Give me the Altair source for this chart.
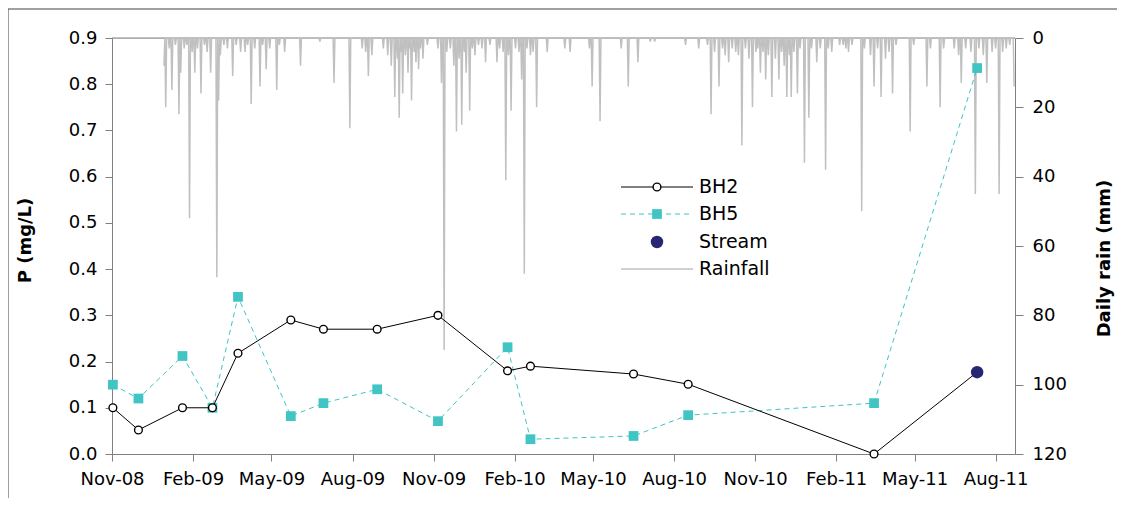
import altair as alt
import pandas as pd

# ---------------- data ----------------
sample_dates = ["2008-11-02", "2008-12-01", "2009-01-20", "2009-02-23", "2009-03-24",
                "2009-05-23", "2009-06-29", "2009-08-29", "2009-11-06", "2010-01-24",
                "2010-02-19", "2010-06-16", "2010-08-17", "2011-03-16", "2011-07-11"]
bh2_values = [0.10, 0.052, 0.10, 0.10, 0.218, 0.29, 0.27, 0.27, 0.30, 0.18,
              0.19, 0.173, 0.151, 0.0, 0.177]
bh5_values = [0.15, 0.12, 0.212, 0.10, 0.34, 0.082, 0.11, 0.14, 0.071, 0.231,
              0.032, 0.039, 0.084, 0.11, 0.835]
stream_dates = ["2011-07-11"]
stream_values = [0.177]

rain_dates = [
    "2008-12-30", "2009-01-01", "2009-01-05", "2009-01-08", "2009-01-12", "2009-01-16",
    "2009-01-18", "2009-01-22", "2009-01-25", "2009-01-28", "2009-01-31", "2009-02-03",
    "2009-02-06", "2009-02-10", "2009-02-14", "2009-02-17", "2009-02-21", "2009-02-28",
    "2009-03-02", "2009-03-04", "2009-03-08", "2009-03-12", "2009-03-18", "2009-03-22",
    "2009-03-27", "2009-04-01", "2009-04-04", "2009-04-08", "2009-04-12", "2009-04-18",
    "2009-04-21", "2009-04-25", "2009-04-29", "2009-05-07", "2009-05-10", "2009-05-16",
    "2009-06-03", "2009-06-25", "2009-07-11", "2009-07-29", "2009-08-12", "2009-08-16",
    "2009-08-19", "2009-08-23", "2009-09-05", "2009-09-10", "2009-09-14", "2009-09-18",
    "2009-09-21", "2009-09-23", "2009-09-25", "2009-09-27", "2009-09-30", "2009-10-03",
    "2009-10-05", "2009-10-07", "2009-10-10", "2009-10-12", "2009-10-15", "2009-10-17",
    "2009-10-20", "2009-10-25", "2009-11-06", "2009-11-10", "2009-11-13", "2009-11-16",
    "2009-11-20", "2009-11-24", "2009-11-27", "2009-11-30", "2009-12-03", "2009-12-06",
    "2009-12-08", "2009-12-12", "2009-12-15", "2009-12-18", "2009-12-22", "2009-12-26",
    "2009-12-30", "2010-01-04", "2010-01-12", "2010-01-15", "2010-01-19", "2010-01-22",
    "2010-01-25", "2010-01-28", "2010-02-02", "2010-02-06", "2010-02-09", "2010-02-12",
    "2010-02-15", "2010-02-19", "2010-02-22", "2010-02-26", "2010-03-10", "2010-03-30",
    "2010-04-05", "2010-04-27", "2010-04-30", "2010-05-09", "2010-06-02", "2010-06-10",
    "2010-06-21", "2010-07-05", "2010-07-10", "2010-08-14", "2010-08-29", "2010-09-08",
    "2010-09-12", "2010-09-16", "2010-09-21", "2010-09-25", "2010-09-28", "2010-10-02",
    "2010-10-06", "2010-10-10", "2010-10-13", "2010-10-17", "2010-10-21", "2010-10-25",
    "2010-10-29", "2010-11-02", "2010-11-04", "2010-11-07", "2010-11-10", "2010-11-13",
    "2010-11-16", "2010-11-20", "2010-11-24", "2010-11-28", "2010-12-01", "2010-12-04",
    "2010-12-07", "2010-12-10", "2010-12-12", "2010-12-15", "2010-12-19", "2010-12-22",
    "2010-12-27", "2011-01-01", "2011-01-04", "2011-01-10", "2011-01-14", "2011-01-20",
    "2011-01-23", "2011-01-27", "2011-02-05", "2011-02-09", "2011-02-12", "2011-02-15",
    "2011-02-19", "2011-03-02", "2011-03-05", "2011-03-12", "2011-03-16", "2011-03-20",
    "2011-03-24", "2011-03-29", "2011-04-02", "2011-04-06", "2011-04-10", "2011-04-26",
    "2011-04-30", "2011-05-15", "2011-05-19", "2011-05-30", "2011-06-03", "2011-06-15",
    "2011-06-20", "2011-06-23", "2011-06-28", "2011-07-04", "2011-07-09", "2011-07-13",
    "2011-07-18", "2011-07-22", "2011-07-28", "2011-08-01", "2011-08-05", "2011-08-09",
    "2011-08-13", "2011-08-17", "2011-08-22"]
rain_mm = [
    8, 20, 3, 15, 2, 22,
    10, 3, 2, 52, 4, 10,
    3, 16, 2, 4, 10, 69,
    18, 5, 2, 3, 11, 2,
    4, 4, 2, 19, 3, 14,
    2, 9, 3, 15, 2, 4,
    8, 1, 13, 26, 3, 4,
    11, 5, 3, 5, 8, 17,
    6, 23, 4, 16, 5, 10,
    3, 18, 4, 7, 9, 3,
    6, 2, 3, 13, 90, 4,
    3, 8, 27, 6, 25, 4,
    10, 21, 3, 5, 2, 3,
    7, 2, 7, 3, 4, 41,
    5, 21, 3, 4, 12, 68,
    3, 5, 4, 20, 4, 3,
    4, 3, 14, 24, 3, 14,
    7, 1, 1, 2, 3, 2,
    22, 4, 14, 3, 5, 7,
    3, 4, 5, 31, 3, 6,
    20, 4, 3, 10, 4, 12,
    5, 17, 6, 12, 4, 8,
    17, 5, 17, 4, 16, 3,
    36, 23, 3, 7, 3, 38,
    3, 4, 2, 2, 3, 4,
    2, 50, 3, 5, 14, 3,
    17, 6, 4, 16, 2, 27,
    2, 14, 3, 20, 3, 3,
    5, 13, 3, 4, 45, 3,
    5, 13, 4, 3, 45, 4,
    3, 2, 14]

x_tick_months = [(2008, 11), (2009, 2), (2009, 5), (2009, 8), (2009, 11), (2010, 2),
                 (2010, 5), (2010, 8), (2010, 11), (2011, 2), (2011, 5), (2011, 8)]
p_ticks = [0.0, 0.1, 0.2, 0.3, 0.4, 0.5, 0.6, 0.7, 0.8, 0.9]
rain_ticks = [0, 20, 40, 60, 80, 100, 120]
legend_labels = ["BH2", "BH5", "Stream", "Rainfall"]

# ---------------- tables ----------------
bh2_df = pd.DataFrame({"date": sample_dates, "P": bh2_values})
bh5_df = pd.DataFrame({"date": sample_dates, "P": bh5_values})
stream_df = pd.DataFrame({"date": stream_dates, "P": stream_values})
days = pd.date_range("2008-12-30", "2011-08-22", freq="D").strftime("%Y-%m-%d")
rain_map = dict(zip(rain_dates, rain_mm))
rain_df = pd.DataFrame({"date": list(days), "rain": [rain_map.get(d, 0) for d in days]})

FONT = "DejaVu Sans"
AX = "#808080"
TEAL = "#40c4c4"
NAVY = "#262673"
GREY = "#c0c0c0"
W, H = 903, 416

xscale = alt.Scale(type="utc", nice=False,
                   domain=[alt.DateTime(year=2008, month=11, date=1, utc=True),
                           alt.DateTime(year=2011, month=8, date=23, utc=True)])
xaxis = alt.Axis(values=[alt.DateTime(year=y, month=m, date=1, utc=True) for y, m in x_tick_months],
                 labelExpr="utcFormat(datum.value, '%b-%y')", title=None, grid=False,
                 domainColor=AX, tickColor=AX, tickSize=7, labelFont=FONT, labelFontSize=18,
                 labelColor="black", labelPadding=9, labelFlush=False, labelOverlap=False)
X = alt.X("date:T", scale=xscale, axis=xaxis)

pscale = alt.Scale(domain=[0, 0.9], nice=False, zero=False)
yaxis_left = alt.Axis(values=p_ticks, format=".1f", orient="left", grid=False,
                      domainColor=AX, tickColor=AX, tickSize=7, labelPadding=8,
                      labelFont=FONT, labelFontSize=18, labelColor="black",
                      title="P (mg/L)", titleFont=FONT, titleFontSize=18, titleFontWeight="bold",
                      titleColor="black", titleAngle=270, titleX=-87, titleY=202,
                      titleAlign="center", titleBaseline="middle")

rain_axis = alt.Axis(values=rain_ticks, orient="right", grid=False,
                     domainColor=AX, tickColor=AX, tickSize=8, labelPadding=9,
                     labelFont=FONT, labelFontSize=18, labelColor="black",
                     title="Daily rain (mm)", titleFont=FONT, titleFontSize=18,
                     titleFontWeight="bold", titleColor="black", titleAngle=270,
                     titleX=89, titleY=220, titleAlign="center", titleBaseline="middle")

one = pd.DataFrame({"k": [0]})

frame = alt.Chart(one).mark_rect(fill=None, stroke="#404040", strokeWidth=1).encode(
    x=alt.value(-104), x2=alt.value(1012), y=alt.value(-29), y2=alt.value(480))
topline = alt.Chart(one).mark_rule(color=AX, strokeWidth=1).encode(
    x=alt.value(0), x2=alt.value(W), y=alt.value(0))

rain = alt.Chart(rain_df).mark_line(color=GREY, strokeWidth=1.5).encode(
    x=X,
    y=alt.Y("rain:Q", scale=alt.Scale(domain=[0, 120], reverse=True, nice=False), axis=rain_axis))

bh5_line = alt.Chart(bh5_df).mark_line(color=TEAL, strokeWidth=1, strokeDash=[5, 4]).encode(
    x=X, y=alt.Y("P:Q", scale=pscale, axis=yaxis_left))
bh5_pts = alt.Chart(bh5_df).mark_square(color=TEAL, size=95, opacity=1).encode(
    x=X, y=alt.Y("P:Q", scale=pscale))
bh2_line = alt.Chart(bh2_df).mark_line(color="black", strokeWidth=1).encode(
    x=X, y=alt.Y("P:Q", scale=pscale))
bh2_pts = alt.Chart(bh2_df).mark_point(shape="circle", filled=True, fill="white", stroke="black",
                                       strokeWidth=1.4, size=60, opacity=1).encode(
    x=X, y=alt.Y("P:Q", scale=pscale))
stream_pts = alt.Chart(stream_df).mark_circle(color=NAVY, size=155, opacity=1).encode(
    x=X, y=alt.Y("P:Q", scale=pscale))

# legend (drawn by hand, in pixel space)
LX0, LX1, LM, LT = 509, 581, 545, 587
LY = [149, 176, 204, 231]
leg_df = pd.DataFrame({"label": legend_labels})
leg = [
    alt.Chart(one).mark_rule(color="black", strokeWidth=1).encode(
        x=alt.value(LX0), x2=alt.value(LX1), y=alt.value(LY[0])),
    alt.Chart(one).mark_point(shape="circle", filled=True, fill="white", stroke="black",
                              strokeWidth=1.4, size=60, opacity=1).encode(
        x=alt.value(LM), y=alt.value(LY[0])),
    alt.Chart(one).mark_rule(color=TEAL, strokeWidth=1, strokeDash=[5, 4]).encode(
        x=alt.value(LX0), x2=alt.value(LX1), y=alt.value(LY[1])),
    alt.Chart(one).mark_square(color=TEAL, size=95, opacity=1).encode(
        x=alt.value(LM), y=alt.value(LY[1])),
    alt.Chart(one).mark_circle(color=NAVY, size=155, opacity=1).encode(
        x=alt.value(LM), y=alt.value(LY[2])),
    alt.Chart(one).mark_rule(color=GREY, strokeWidth=1.5).encode(
        x=alt.value(LX0), x2=alt.value(LX1), y=alt.value(LY[3])),
]
for i, lab in enumerate(legend_labels):
    leg.append(alt.Chart(leg_df[leg_df["label"] == lab]).mark_text(
        align="left", baseline="middle", font=FONT, fontSize=19, color="black").encode(
        x=alt.value(LT), y=alt.value(LY[i]), text="label:N"))

left = alt.layer(bh5_line, bh5_pts, bh2_line, bh2_pts, stream_pts, *leg)
right = alt.layer(frame, topline, rain)

chart = alt.layer(right, left).resolve_scale(y="independent").properties(
    width=W, height=H,
    autosize=alt.AutoSizeParams(type="none"),
    padding={"left": 104, "top": 30, "right": 102, "bottom": 44},
).configure_view(stroke=None).configure(background="white")

chart.save("out.html", embed_options={"renderer": "svg", "actions": False})
